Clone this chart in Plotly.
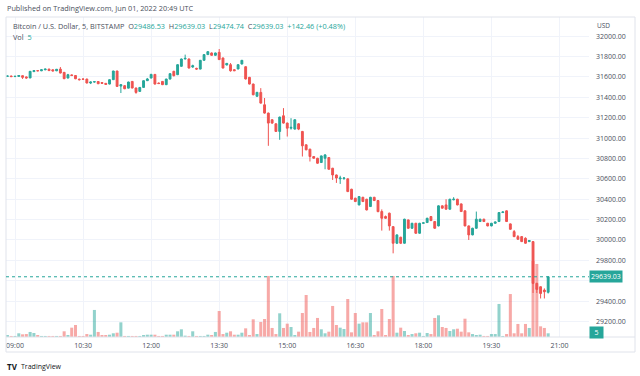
import pandas as pd
import plotly.graph_objects as go

# ---- data (BTC/USD, 5-minute candles, Jun 01 2022, 08:50 .. 20:45) ----
times = pd.date_range("2022-06-01 08:50", periods=144, freq="5min")

opens = [31606, 31609, 31603, 31605, 31612, 31600, 31590, 31652, 31662, 31660,
         31670, 31677, 31670, 31660, 31677, 31645, 31589, 31620, 31614, 31578,
         31580, 31579, 31540, 31550, 31555, 31545, 31537, 31530, 31573, 31658,
         31510, 31514, 31490, 31556, 31491, 31458, 31497, 31563, 31589, 31625,
         31540, 31556, 31524, 31579, 31655, 31622, 31704, 31776, 31776, 31697,
         31684, 31677, 31763, 31819, 31835, 31812, 31841, 31786, 31717, 31720,
         31671, 31678, 31727, 31700, 31596, 31530, 31410, 31448, 31327, 31245,
         31180, 31140, 31065, 31219, 31147, 31097, 31088, 31140, 31065, 30934,
         30891, 30819, 30802, 30760, 30802, 30809, 30704, 30638, 30600, 30603,
         30600, 30498, 30410, 30344, 30419, 30400, 30328, 30419, 30387, 30279,
         30230, 30263, 30131, 29968, 30027, 29968, 30197, 30115, 30164, 30066,
         30164, 30171, 30230, 30181, 30138, 30335, 30344, 30302, 30394, 30400,
         30354, 30286, 30138, 30050, 30115, 30181, 30204, 30164, 30138, 30164,
         30181, 30269, 30286, 30158, 30082, 30033, 30033, 30017, 29984, 29984,
         29574, 29541, 29508, 29486.53]
highs = [31612, 31612, 31610, 31618, 31615, 31605, 31658, 31666, 31666, 31673,
         31680, 31680, 31674, 31678, 31697, 31648, 31630, 31625, 31618, 31583,
         31585, 31582, 31555, 31556, 31558, 31548, 31540, 31576, 31660, 31660,
         31528, 31520, 31553, 31560, 31495, 31500, 31566, 31590, 31630, 31628,
         31545, 31560, 31582, 31635, 31660, 31724, 31780, 31819, 31780, 31720,
         31690, 31766, 31822, 31852, 31840, 31838, 31874, 31790, 31736, 31736,
         31676, 31724, 31766, 31705, 31600, 31534, 31452, 31490, 31393, 31250,
         31184, 31144, 31210, 31294, 31152, 31195, 31184, 31145, 31070, 30938,
         30895, 30824, 30806, 30828, 30842, 30813, 30708, 30642, 30630, 30618,
         30604, 30502, 30414, 30430, 30423, 30404, 30423, 30423, 30391, 30300,
         30240, 30268, 30135, 30055, 30032, 30208, 30200, 30168, 30168, 30168,
         30175, 30218, 30234, 30185, 30340, 30339, 30400, 30404, 30420, 30404,
         30358, 30290, 30142, 30120, 30279, 30208, 30208, 30168, 30168, 30181,
         30273, 30280, 30290, 30162, 30098, 30049, 30037, 30026, 29998, 29990,
         29580, 29545, 29525, 29639.03]
lows = [31600, 31599, 31600, 31602, 31580, 31583, 31588, 31648, 31656, 31657,
        31666, 31658, 31655, 31657, 31635, 31578, 31586, 31608, 31578, 31565,
        31572, 31537, 31530, 31545, 31530, 31534, 31523, 31527, 31570, 31505,
        31442, 31480, 31488, 31488, 31435, 31455, 31495, 31560, 31586, 31526,
        31530, 31520, 31520, 31575, 31605, 31618, 31700, 31772, 31684, 31690,
        31670, 31674, 31760, 31815, 31808, 31808, 31766, 31684, 31714, 31652,
        31658, 31675, 31722, 31575, 31527, 31420, 31405, 31338, 31240, 30924,
        31140, 31060, 30983, 31142, 31015, 31083, 31084, 31078, 30819, 30880,
        30770, 30798, 30748, 30756, 30694, 30690, 30589, 30560, 30550, 30590,
        30470, 30395, 30372, 30340, 30372, 30290, 30324, 30382, 30273, 30092,
        30208, 30092, 29869, 29960, 29960, 29964, 30110, 30110, 30060, 30062,
        30160, 30167, 30186, 30110, 30134, 30308, 30298, 30298, 30390, 30340,
        30275, 30134, 30000, 30046, 30110, 30177, 30177, 30134, 30134, 30160,
        30177, 30265, 30177, 30100, 30028, 30003, 29980, 29964, 29980, 29480,
        29480, 29426, 29426, 29474.74]
closes = [31609, 31603, 31606, 31614, 31596, 31590, 31655, 31662, 31660, 31670,
          31677, 31662, 31658, 31675, 31638, 31583, 31622, 31614, 31582, 31573,
          31577, 31540, 31550, 31553, 31533, 31537, 31527, 31573, 31658, 31507,
          31524, 31484, 31550, 31491, 31448, 31497, 31563, 31580, 31625, 31530,
          31535, 31524, 31579, 31632, 31612, 31720, 31776, 31782, 31687, 31710,
          31677, 31763, 31819, 31848, 31812, 31835, 31770, 31687, 31733, 31660,
          31661, 31720, 31763, 31580, 31530, 31425, 31449, 31343, 31245, 31147,
          31147, 31065, 31206, 31147, 31097, 31105, 31180, 31088, 30924, 30885,
          30819, 30802, 30753, 30825, 30835, 30694, 30638, 30608, 30608, 30608,
          30475, 30400, 30377, 30426, 30377, 30295, 30419, 30387, 30278, 30213,
          30213, 30138, 29968, 30050, 29968, 30204, 30115, 30164, 30066, 30164,
          30168, 30213, 30190, 30115, 30335, 30312, 30302, 30400, 30400, 30344,
          30279, 30138, 30050, 30115, 30204, 30204, 30181, 30138, 30164, 30177,
          30269, 30275, 30181, 30105, 30033, 30007, 29984, 29968, 29994, 29574,
          29515, 29475, 29492, 29639.03]
volumes = [2.7, 1.4, 1.4, 5.0, 3.6, 4.0, 6.8, 5.4, 2.7, 1.4,
           1.4, 1.4, 1.4, 1.4, 1.4, 7.7, 2.7, 12.6, 16.2, 1.4,
           1.4, 4.0, 3.1, 36.5, 6.8, 2.7, 2.7, 3.1, 5.0, 5.8,
           19.8, 1.4, 1.4, 1.4, 1.4, 1.4, 2.7, 3.1, 3.1, 3.1,
           1.4, 1.4, 3.1, 3.1, 3.1, 7.7, 10.4, 1.8, 1.4, 7.7,
           1.4, 1.4, 1.4, 3.1, 2.7, 6.8, 35.1, 4.0, 5.8, 7.7,
           3.1, 3.1, 5.8, 11.7, 2.7, 23.9, 4.0, 20.3, 24.3, 82.4,
           12.2, 4.0, 32.0, 12.2, 18.0, 13.5, 2.7, 7.2, 32.4, 56.7,
           6.8, 12.2, 25.7, 10.4, 5.0, 7.2, 41.9, 16.2, 12.6, 10.8,
           51.3, 6.3, 32.4, 18.0, 19.8, 19.8, 32.4, 2.7, 7.7, 37.8,
           2.7, 24.3, 82.4, 5.8, 12.6, 8.1, 2.7, 4.0, 5.0, 5.8,
           1.4, 5.4, 4.0, 25.7, 29.3, 13.5, 12.2, 8.1, 10.4, 11.2,
           7.2, 24.7, 6.3, 4.0, 2.7, 3.1, 1.4, 1.4, 4.0, 4.0,
           44.6, 1.4, 4.0, 58.0, 5.0, 17.6, 5.0, 17.6, 12.2, 102.6,
           98.6, 14.4, 12.2, 5.0]

price_ticks = [29200, 29400, 29600, 29800, 30000, 30200, 30400, 30600, 30800,
               31000, 31200, 31400, 31600, 31800, 32000]
price_labels = ["" if v == 29600 else f"{v:.2f}" for v in price_ticks]  # hidden by last-price tag
time_ticks = ["2022-06-01 09:00", "2022-06-01 10:30", "2022-06-01 12:00",
              "2022-06-01 13:30", "2022-06-01 15:00", "2022-06-01 16:30",
              "2022-06-01 18:00", "2022-06-01 19:30", "2022-06-01 21:00"]
time_labels = ["09:00", "10:30", "12:00", "13:30", "15:00", "16:30",
               "18:00", "19:30", "21:00"]
last_price = 29639.03
last_volume = 5

UP = "#26a69a"
DOWN = "#ef5350"
UP_V = "rgba(38,166,154,0.5)"
DOWN_V = "rgba(239,83,80,0.5)"
FONT = "Open Sans"
TXT = "#4a4f5c"
GRID = "#f0f3fa"

vol_colors = [UP_V if c >= o else DOWN_V for o, c in zip(opens, closes)]

fig = go.Figure()
fig.add_trace(go.Bar(x=times, y=volumes, marker=dict(color=vol_colors, line=dict(width=0)),
                     yaxis="y", hoverinfo="skip"))
fig.add_trace(go.Candlestick(
    x=times, open=opens, high=highs, low=lows, close=closes, yaxis="y2",
    increasing=dict(line=dict(color=UP, width=1), fillcolor=UP),
    decreasing=dict(line=dict(color=DOWN, width=1), fillcolor=DOWN),
    whiskerwidth=0))

# pixel helpers for the fixed 640x376 canvas
L, R, T, B = 6, 589, 17, 337
def px(x):
    return (x - L) / (R - L)
def py(y):
    return (B - y) / (B - T)

fig.update_layout(
    width=640, height=376,
    margin=dict(l=L, r=640 - R, t=T, b=376 - B),
    paper_bgcolor="white", plot_bgcolor="white",
    showlegend=False, bargap=0.2, boxgap=0.3,
    font=dict(family=FONT, size=7, color=TXT),
    xaxis=dict(type="date", range=["2022-06-01 08:48:06", "2022-06-01 21:39"],
               tickvals=time_ticks, ticktext=time_labels, ticks="",
               showgrid=True, gridcolor=GRID, gridwidth=1, zeroline=False,
               showline=False, rangeslider=dict(visible=False),
               ticklabelstandoff=3, tickfont=dict(size=7, color=TXT)),
    yaxis=dict(range=[0, 432], autorange=False, visible=False, showgrid=False,
               zeroline=False),
    yaxis2=dict(overlaying="y", side="right", range=[29048, 32188], autorange=False,
                tickvals=price_ticks, ticktext=price_labels,
                ticks="", showgrid=True, gridcolor=GRID, gridwidth=1,
                zeroline=False, showline=False, ticklabelstandoff=6,
                tickfont=dict(size=7, color=TXT)),
)

shapes = [
    # outer frame
    dict(type="rect", xref="paper", yref="paper", x0=0, x1=px(635), y0=py(352), y1=py(17),
         line=dict(color="#e0e3eb", width=1), fillcolor="rgba(0,0,0,0)", layer="above"),
    # time axis separator
    dict(type="line", xref="paper", yref="paper", x0=0, x1=px(635), y0=0, y1=0,
         line=dict(color="#e0e3eb", width=1)),
    # last price dotted line
    dict(type="line", xref="paper", yref="y2", x0=0, x1=1, y0=last_price, y1=last_price,
         line=dict(color=UP, width=1, dash="dot")),
]
fig.update_layout(shapes=shapes)

G = UP
SP = "&nbsp; "
legend = (f"Bitcoin / U.S. Dollar, 5, BITSTAMP{SP}"
          f"O<span style='color:{G}'>29486.53</span>{SP}"
          f"H<span style='color:{G}'>29639.03</span>{SP}"
          f"L<span style='color:{G}'>29474.74</span>{SP}"
          f"C<span style='color:{G}'>29639.03</span>{SP}"
          f"<span style='color:{G}'>+142.46 (+0.48%)</span>")
ann = [
    dict(x=px(5), y=py(8), text="Published on TradingView.com, Jun 01, 2022 20:49 UTC",
         font=dict(size=7.3, color=TXT)),
    dict(x=px(11), y=py(25.5), text=legend, font=dict(size=7.3, color=TXT)),
    dict(x=px(11), y=py(37), text=f"Vol{SP}<span style='color:{G}'>{last_volume}</span>",
         font=dict(size=7.3, color=TXT)),
    dict(x=px(595), y=py(26), text="USD", font=dict(size=6.5, color=TXT)),
    dict(x=px(589), y=last_price, yref="y2", text=f"{last_price:.2f}",
         bgcolor=UP, font=dict(size=7, color="white"), borderpad=1, yanchor="middle"),
    dict(x=px(589), y=py(332), text=str(last_volume), bgcolor=UP, width=11,
         font=dict(size=7, color="white"), borderpad=1, yanchor="middle"),
    dict(x=px(5), y=py(366), text="<b>TV</b>", font=dict(size=8, color="#131722")),
    dict(x=px(19), y=py(366), text="TradingView", font=dict(size=7, color="#131722")),
]
for a in ann:
    a.setdefault("xref", "paper")
    a.setdefault("yref", "paper")
    a.setdefault("xanchor", "left")
    a.setdefault("yanchor", "middle")
    a["showarrow"] = False
fig.update_layout(annotations=ann)

fig.write_html("out.html", config={"displayModeBar": False},
               post_script="document.body.style.margin='0';document.body.style.overflow='hidden';")
